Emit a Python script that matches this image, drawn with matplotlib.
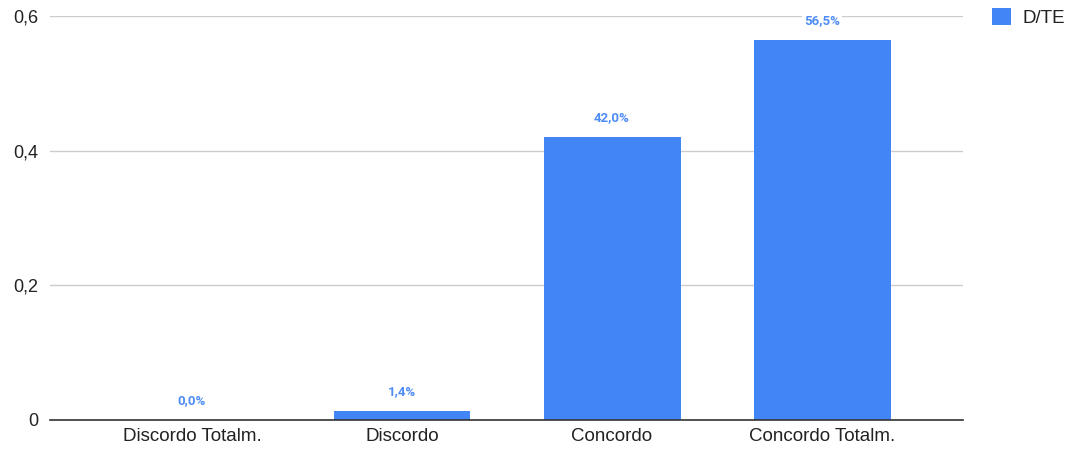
import matplotlib
matplotlib.use("Agg")
import matplotlib.pyplot as plt

plt.rcParams['font.family'] = ['Liberation Sans', 'DejaVu Sans']

categories = ["Discordo Totalm.", "Discordo", "Concordo", "Concordo Totalm."]
values = [0.0, 0.014, 0.42, 0.565]
labels = ["0,0%", "1,4%", "42,0%", "56,5%"]
series_name = "D/TE"
yticks = [0, 0.2, 0.4, 0.6]
yticklabels = ["0", "0,2", "0,4", "0,6"]

bar_color = "#4285F4"
label_color = "#4F8DF5"

fig = plt.figure(figsize=(10.69, 4.49), dpi=100)
ax = fig.add_axes([50/1069, 29/449, 913/1069, 404/449])

x = list(range(len(categories)))
bars = ax.bar(x, values, width=0.652, color=bar_color, label=series_name, zorder=3)

for xi, v, lab in zip(x, values, labels):
    ax.annotate(lab, (xi, v), xytext=(0, 14), textcoords="offset points",
                ha="center", va="center", fontsize=9.5, fontweight="bold",
                family=['Roboto', 'DejaVu Sans'],
                color=label_color, zorder=5,
                bbox=dict(boxstyle="square,pad=0.15", fc="white", ec="none"))

ax.set_xlim(-0.676, 3.671)
ax.set_ylim(0, 0.6)
ax.set_yticks(yticks)
ax.set_yticklabels(yticklabels)
ax.set_xticks(x)
ax.set_xticklabels(categories)
ax.tick_params(axis="both", length=0, colors="#222222")
ax.tick_params(axis="x", pad=6, labelsize=13.5)
ax.tick_params(axis="y", pad=8.5, labelsize=13)
ax.grid(axis="y", color="#cccccc", linewidth=1, zorder=0)
for s in ["top", "right", "left"]:
    ax.spines[s].set_visible(False)
ax.spines["bottom"].set_color("#333333")
ax.spines["bottom"].set_linewidth(1.2)
ax.spines["bottom"].set_zorder(4)

leg = fig.legend(handles=[bars], labels=[series_name], loc="upper left",
                 bbox_to_anchor=(992/1069, 1 - 8/449), frameon=False,
                 fontsize=13.5, handlelength=1.0, handleheight=1.0,
                 handletextpad=0.6, borderaxespad=0, borderpad=0)
for t in leg.get_texts():
    t.set_color("#222222")

fig.savefig("out.png", dpi=100)
